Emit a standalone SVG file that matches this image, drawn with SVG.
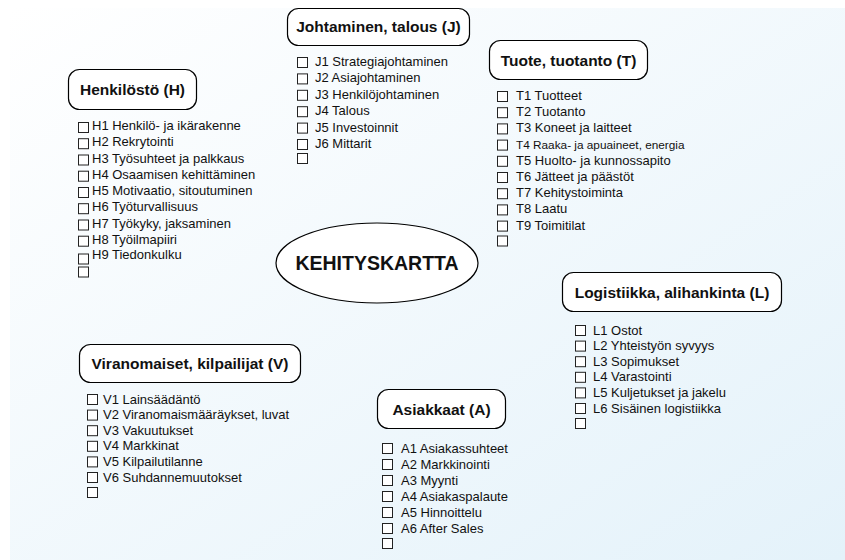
<svg xmlns="http://www.w3.org/2000/svg" width="845" height="560" viewBox="0 0 845 560">
  <defs>
    <linearGradient id="bg" x1="0" y1="0" x2="1" y2="1">
      <stop offset="0" stop-color="#ffffff"/>
      <stop offset="1" stop-color="#e4f2fa"/>
    </linearGradient>
    <rect id="cb" width="10" height="10"/>
  </defs>
  <style>
    .head { fill: #ffffff; stroke: #000000; stroke-width: 1.2; }
    .htxt { font-family: "Liberation Sans", Arial, sans-serif; font-weight: bold; font-size: 15.5px; fill: #111111; text-anchor: middle; }
    .item { font-family: "Liberation Sans", Arial, sans-serif; font-size: 13px; fill: #111111; }
    .box { fill: #ffffff; stroke: #222222; stroke-width: 1; }
    .title { font-family: "Liberation Sans", Arial, sans-serif; font-weight: bold; font-size: 19.5px; fill: #111111; text-anchor: middle; }
  </style>

  <rect width="845" height="560" fill="#ffffff"/>
  <rect x="10" y="8" width="835" height="552" fill="url(#bg)"/>

  <!-- centre -->
  <g id="kehityskartta">
    <ellipse cx="377" cy="263" rx="101" ry="40" fill="#ffffff" stroke="#000000" stroke-width="1.2"/>
    <text class="title" x="377" y="270">KEHITYSKARTTA</text>
  </g>

  <!-- Henkilöstö -->
  <g id="henkilosto">
    <rect class="head" x="68.5" y="69.5" width="128" height="40" rx="11"/>
    <text class="htxt" x="132.5" y="95">Henkilöstö (H)</text>
    <g class="box">
      <use href="#cb" x="78.5" y="122.5"/>
      <use href="#cb" x="78.5" y="138.7"/>
      <use href="#cb" x="78.5" y="155"/>
      <use href="#cb" x="78.5" y="171.2"/>
      <use href="#cb" x="78.5" y="187.5"/>
      <use href="#cb" x="78.5" y="203.7"/>
      <use href="#cb" x="78.5" y="220"/>
      <use href="#cb" x="78.5" y="236.2"/>
      <use href="#cb" x="78.5" y="254"/>
      <use href="#cb" x="78.5" y="267"/>
    </g>
    <g class="item">
      <text x="92" y="130">H1 Henkilö- ja ikärakenne</text>
      <text x="92" y="146.2">H2 Rekrytointi</text>
      <text x="92" y="162.5">H3 Työsuhteet ja palkkaus</text>
      <text x="92" y="178.7">H4 Osaamisen kehittäminen</text>
      <text x="92" y="195">H5 Motivaatio, sitoutuminen</text>
      <text x="92" y="211.2">H6 Työturvallisuus</text>
      <text x="92" y="227.5">H7 Työkyky, jaksaminen</text>
      <text x="92" y="243.7">H8 Työilmapiiri</text>
      <text x="92" y="259">H9 Tiedonkulku</text>
    </g>
  </g>

  <!-- Johtaminen, talous -->
  <g id="johtaminen">
    <rect class="head" x="287.5" y="8.5" width="182" height="37" rx="11"/>
    <text class="htxt" x="378.5" y="32">Johtaminen, talous (J)</text>
    <g class="box">
      <use href="#cb" x="297.5" y="57.5"/>
      <use href="#cb" x="297.5" y="73.9"/>
      <use href="#cb" x="297.5" y="90.3"/>
      <use href="#cb" x="297.5" y="106.7"/>
      <use href="#cb" x="297.5" y="123.1"/>
      <use href="#cb" x="297.5" y="139.5"/>
      <use href="#cb" x="297.5" y="153.5"/>
    </g>
    <g class="item">
      <text x="315" y="66">J1 Strategiajohtaminen</text>
      <text x="315" y="82.4">J2 Asiajohtaminen</text>
      <text x="315" y="98.8">J3 Henkilöjohtaminen</text>
      <text x="315" y="115.2">J4 Talous</text>
      <text x="315" y="131.6">J5 Investoinnit</text>
      <text x="315" y="148">J6 Mittarit</text>
    </g>
  </g>

  <!-- Tuote, tuotanto -->
  <g id="tuote">
    <rect class="head" x="489.5" y="40.5" width="158" height="39" rx="11"/>
    <text class="htxt" x="568.5" y="65.5">Tuote, tuotanto (T)</text>
    <g class="box">
      <use href="#cb" x="497.5" y="91.5"/>
      <use href="#cb" x="497.5" y="107.7"/>
      <use href="#cb" x="497.5" y="123.9"/>
      <use href="#cb" x="497.5" y="140.1"/>
      <use href="#cb" x="497.5" y="156.3"/>
      <use href="#cb" x="497.5" y="172.5"/>
      <use href="#cb" x="497.5" y="188.7"/>
      <use href="#cb" x="497.5" y="204.9"/>
      <use href="#cb" x="497.5" y="221.1"/>
      <use href="#cb" x="497.5" y="236"/>
    </g>
    <g class="item">
      <text x="516" y="100">T1 Tuotteet</text>
      <text x="516" y="116.2">T2 Tuotanto</text>
      <text x="516" y="132.4">T3 Koneet ja laitteet</text>
      <text x="516" y="148.6" font-size="11.8">T4 Raaka- ja apuaineet, energia</text>
      <text x="516" y="164.8">T5 Huolto- ja kunnossapito</text>
      <text x="516" y="181">T6 Jätteet ja päästöt</text>
      <text x="516" y="197.2">T7 Kehitystoiminta</text>
      <text x="516" y="213.4">T8 Laatu</text>
      <text x="516" y="229.6">T9 Toimitilat</text>
    </g>
  </g>

  <!-- Logistiikka, alihankinta -->
  <g id="logistiikka">
    <rect class="head" x="562.5" y="272.5" width="219" height="39" rx="11"/>
    <text class="htxt" x="672" y="297.5">Logistiikka, alihankinta (L)</text>
    <g class="box">
      <use href="#cb" x="575.5" y="325.5"/>
      <use href="#cb" x="575.5" y="341.1"/>
      <use href="#cb" x="575.5" y="356.7"/>
      <use href="#cb" x="575.5" y="372.3"/>
      <use href="#cb" x="575.5" y="387.9"/>
      <use href="#cb" x="575.5" y="403.5"/>
      <use href="#cb" x="575.5" y="418.5"/>
    </g>
    <g class="item">
      <text x="593" y="334.5">L1 Ostot</text>
      <text x="593" y="350.1">L2 Yhteistyön syvyys</text>
      <text x="593" y="365.7">L3 Sopimukset</text>
      <text x="593" y="381.3">L4 Varastointi</text>
      <text x="593" y="396.9">L5 Kuljetukset ja jakelu</text>
      <text x="593" y="412.5">L6 Sisäinen logistiikka</text>
    </g>
  </g>

  <!-- Viranomaiset, kilpailijat -->
  <g id="viranomaiset">
    <rect class="head" x="79.5" y="344.5" width="221" height="38" rx="11"/>
    <text class="htxt" x="190" y="369">Viranomaiset, kilpailijat (V)</text>
    <g class="box">
      <use href="#cb" x="87.5" y="394.5"/>
      <use href="#cb" x="87.5" y="410.1"/>
      <use href="#cb" x="87.5" y="425.7"/>
      <use href="#cb" x="87.5" y="441.3"/>
      <use href="#cb" x="87.5" y="456.9"/>
      <use href="#cb" x="87.5" y="472.5"/>
      <use href="#cb" x="87.5" y="487.5"/>
    </g>
    <g class="item">
      <text x="103" y="403.5">V1 Lainsäädäntö</text>
      <text x="103" y="419.1">V2 Viranomaismääräykset, luvat</text>
      <text x="103" y="434.7">V3 Vakuutukset</text>
      <text x="103" y="450.3">V4 Markkinat</text>
      <text x="103" y="465.9">V5 Kilpailutilanne</text>
      <text x="103" y="481.5">V6 Suhdannemuutokset</text>
    </g>
  </g>

  <!-- Asiakkaat -->
  <g id="asiakkaat">
    <rect class="head" x="377.5" y="389.5" width="128" height="39" rx="11"/>
    <text class="htxt" x="441.5" y="414.5">Asiakkaat (A)</text>
    <g class="box">
      <use href="#cb" x="382.5" y="443.5"/>
      <use href="#cb" x="382.5" y="459.5"/>
      <use href="#cb" x="382.5" y="475.5"/>
      <use href="#cb" x="382.5" y="491.5"/>
      <use href="#cb" x="382.5" y="507.5"/>
      <use href="#cb" x="382.5" y="523.5"/>
      <use href="#cb" x="382.5" y="538.5"/>
    </g>
    <g class="item">
      <text x="401" y="452.5">A1 Asiakassuhteet</text>
      <text x="401" y="468.5">A2 Markkinointi</text>
      <text x="401" y="484.5">A3 Myynti</text>
      <text x="401" y="500.5">A4 Asiakaspalaute</text>
      <text x="401" y="516.5">A5 Hinnoittelu</text>
      <text x="401" y="532.5">A6 After Sales</text>
    </g>
  </g>
</svg>
